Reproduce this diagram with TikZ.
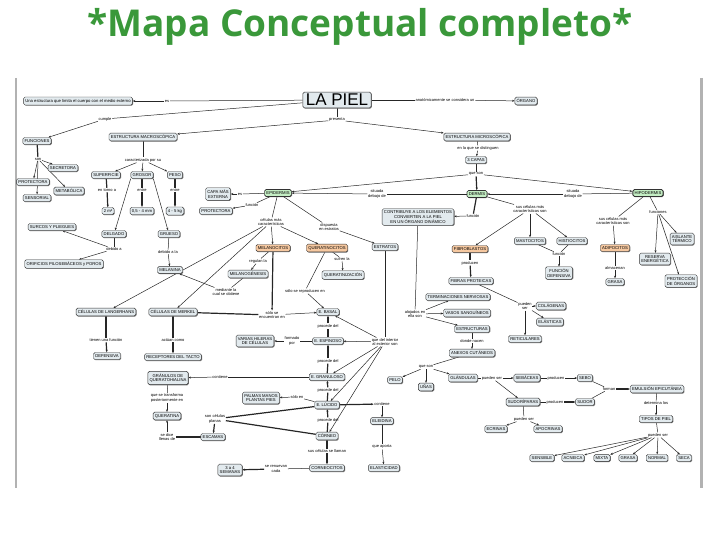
\documentclass[tikz,border=0pt]{standalone}
\usepackage{fontspec}
\setmainfont{Liberation Sans}
\newfontfamily\titlefont{Open Sans}
\usetikzlibrary{shadows,arrows.meta}
\definecolor{cmfill}{RGB}{226,234,238}
\definecolor{cmgreen}{RGB}{196,238,196}
\definecolor{cmorange}{RGB}{246,200,160}
\definecolor{titlegreen}{RGB}{58,152,58}
\pgfdeclarelayer{background}
\pgfsetlayers{background,main}

\begin{document}
\begin{tikzpicture}[x=1pt,y=-1pt,
    concept/.style={draw=black!80, fill=cmfill, rounded corners=1.5pt, inner xsep=1.8pt, inner ysep=2pt,
      align=center, font=\fontsize{4.2}{4.8}\selectfont, line width=0.4pt,
      copy shadow={shadow xshift=0.7pt, shadow yshift=-0.7pt, draw=none, fill=black!55}},
    greenbox/.style={concept, fill=cmgreen, line width=0.6pt},
    orangebox/.style={concept, fill=cmorange},
    link/.style={inner sep=0.6pt, align=center, font=\fontsize{4}{4.5}\selectfont},
    conn/.style={draw=black!85, line width=0.5pt},
    arr/.style={conn, -{Stealth[length=2.6pt,width=2pt]}},
    heavy/.style={line width=1.2pt}]
    \useasboundingbox (0,0) rectangle (720,540);

    % Title and frame
    \node[font=\titlefont\bfseries\fontsize{37}{44}\selectfont, text=titlegreen] (title) at (360,27) {*Mapa Conceptual completo*};
    \draw[gray!60, line width=1.2pt] (16,78) -- (16,488);
    \draw[gray!60, line width=3pt] (701,78) -- (701,488);

    % Top level
    \node[concept, font=\fontsize{17}{18}\selectfont, inner xsep=3pt, line width=0.6pt] (piel) at (337,100) {LA PIEL};
    \node[concept] (estr) at (78,101) {Una estructura que limita el cuerpo con el medio externo};
    \node[concept] (organo) at (526,101) {ÓRGANO};
    \node[concept] (func) at (37,141) {FUNCIONES};
    \node[concept] (macro) at (143,137) {ESTRUCTURA MACROSCÓPICA};
    \node[concept] (micro) at (477,137) {ESTRUCTURA MICROSCÓPICA};
    \node[link] (les) at (167,101) {es};
    \node[link] (lorgano) at (445,100) {anatómicamente se considera un};
    \node[link] (lpresenta) at (337,120) {presenta};
    \node[link] (lcumple) at (105,119) {cumple};

    % Funciones
    \node[link] (lson) at (38,159) {son};
    \node[concept] (secretora) at (63,168) {SECRETORA};
    \node[concept] (protect) at (33,182) {PROTECTORA};
    \node[concept] (metab) at (69,191) {METABÓLICA};
    \node[concept] (sensorial) at (37,198) {SENSORIAL};

    % Macroscopica
    \node[link] (lcaract) at (143,160) {caracterizada por su};
    \node[concept] (superficie) at (106,175) {SUPERFICIE};
    \node[concept] (grosor) at (142,175) {GROSOR};
    \node[concept] (peso) at (175,175) {PESO};
    \node[link] (ltorno) at (107,190) {en torno a};
    \node[link] (lentreA) at (142,190) {entre};
    \node[link] (lentreB) at (175,190) {entre};
    \node[concept] (dosm) at (108,211) {2 m²};
    \node[concept] (mm) at (142,211) {0,5 - 4 mm};
    \node[concept] (kg) at (175,211) {4 - 5 kg};
    \node[concept] (delgado) at (114,234) {DELGADO};
    \node[concept] (grueso) at (169,234) {GRUESO};
    \node[link] (ldebido) at (114,249) {debido a};
    \node[link] (ldebidola) at (168,252) {debido a la};
    \node[concept] (surcos) at (52,227) {SURCOS Y PLIEGUES};
    \node[concept] (orificios) at (64,264) {ORIFICIOS PILOSEBÁCEOS y POROS};
    \node[concept] (melanina) at (170,270) {MELANINA};

    % Capas
    \node[link] (ldistinguen) at (478,148) {en la que se distinguen};
    \node[concept] (capas) at (476,160) {3 CAPAS};
    \node[link] (lqueson) at (476,174) {que son};
    \node[greenbox] (epi) at (278,193) {EPIDERMIS};
    \node[greenbox] (dermis) at (477,194) {DERMIS};
    \node[greenbox, line width=0.9pt] (hipo) at (648,193) {HIPODERMIS};
    \node[link] (ldebajoA) at (377,194) {situada\\debajo de};
    \node[link] (ldebajoB) at (573,194) {situada\\debajo de};

    % Epidermis
    \node[link] (lesB) at (240,194) {es};
    \node[link] (lfuncion) at (252,205) {función};
    \node[concept] (capaext) at (218,194) {CAPA MÁS\\EXTERNA};
    \node[concept] (protec2) at (216,211) {PROTECTORA};
    \node[link] (lcelulas) at (271,222) {células más\\características};
    \node[link] (lestratos) at (329,227) {dispuesta\\en estratos};
    \node[orangebox] (melanocitos) at (273,248) {MELANOCITOS};
    \node[orangebox] (querato) at (327,248) {QUERATINOCITOS};
    \node[concept] (estratos) at (385,247) {ESTRATOS};
    \node[link] (lregulan) at (258,261) {regulan la};
    \node[concept] (melanogen) at (248,274) {MELANOGÉNESIS};
    \node[link] (lmediante) at (226,292) {mediante la\\cual se obtiene};
    \node[link] (lsufren) at (342,259) {sufren la};
    \node[concept] (queratiniz) at (343,275) {QUERATINIZACIÓN};
    \node[link] (lreproducen) at (305,291) {sólo se reproducen en};
    \node[link] (lencuentran) at (272,315) {sólo se\\encuentran en};
    \node[concept] (langer) at (106,312) {CÉLULAS DE LANGERHANS};
    \node[concept] (merkel) at (173,312) {CÉLULAS DE MERKEL};
    \node[link] (ltienen) at (106,340) {tienen una función};
    \node[link] (lactuan) at (173,340) {actúan como};
    \node[concept] (defensiva) at (107,356) {DEFENSIVA};
    \node[concept] (tacto) at (173,357) {RECEPTORES DEL TACTO};

    % Estratos
    \node[link] (linterior) at (385,342) {que del interior\\al exterior son};
    \node[concept] (basal) at (328,312) {E. BASAL};
    \node[concept] (espinoso) at (328,341) {E. ESPINOSO};
    \node[concept] (granuloso) at (327,377) {E. GRANULOSO};
    \node[concept] (lucido) at (327,405) {E. LÚCIDO};
    \node[concept] (corneo) at (327,436) {CÓRNEO};
    \node[link] (lprocA) at (328,326) {procede del};
    \node[link] (lprocB) at (328,361) {procede del};
    \node[link] (lprocC) at (328,390) {procede del};
    \node[link] (lprocD) at (328,420) {procede del};
    \node[link] (lformado) at (292,341) {formado\\por};
    \node[concept] (hileras) at (255,341) {VARIAS HILERAS\\DE CÉLULAS};
    \node[link] (lcontieneA) at (220,377) {contiene};
    \node[concept] (granulos) at (168,378) {GRÁNULOS DE\\QUERATOHIALINA};
    \node[link] (ltransforma) at (167,398) {que se transforma\\posteriormente en};
    \node[concept] (queratina) at (167,416) {QUERATINA};
    \node[link] (lllenas) at (167,437) {se dice\\llenas de};
    \node[link] (lplanas) at (215,419) {son células\\planas};
    \node[concept] (escamas) at (213,437) {ESCAMAS};
    \node[link] (lsolo) at (297,397) {sólo en};
    \node[concept] (palmas) at (261,398) {PALMAS MANOS\\PLANTAS PIES};
    \node[link] (lcontieneB) at (382,404) {contiene};
    \node[concept] (eleidina) at (382,421) {ELEIDINA};
    \node[link] (laporta) at (382,447) {que aporta};
    \node[concept] (elasticidad) at (384,468) {ELASTICIDAD};
    \node[link] (lllaman) at (327,451) {sus células se llaman};
    \node[concept] (corneocitos) at (327,468) {CORNEOCITOS};
    \node[link] (lrenuevan) at (276,469) {se renuevan\\cada};
    \node[concept] (semanas) at (230,470) {3 a 4\\SEMANAS};

    % Dermis
    \node[link] (lfuncionB) at (473,216) {función};
    \node[concept] (contrib) at (418,217) {CONTRIBUYE A LOS ELEMENTOS\\CONVIERTEN A LA PIEL\\EN UN ÓRGANO DINÁMICO};
    \node[link] (lcelulasB) at (530,209) {sus células más\\características son};
    \node[orangebox] (fibroblastos) at (470,249) {FIBROBLASTOS};
    \node[concept] (mastocitos) at (530,241) {MASTOCITOS};
    \node[concept] (histiocitos) at (572,241) {HISTIOCITOS};
    \node[link] (lfuncionC) at (559,254) {función};
    \node[concept] (defensivaB) at (559,273) {FUNCIÓN\\DEFENSIVA};
    \node[link] (lproducenA) at (470,263) {producen};
    \node[concept] (fibras) at (471,281) {FIBRAS PROTEICAS};
    \node[link] (lpuedenA) at (525,306) {pueden\\ser};
    \node[concept] (colagenas) at (551,306) {COLÁGENAS};
    \node[concept] (elasticas) at (550,322) {ELÁSTICAS};
    \node[concept] (reticulares) at (525,339) {RETICULARES};
    \node[link] (lalojados) at (415,314) {alojados en\\ella son};
    \node[concept] (terminaciones) at (458,297) {TERMINACIONES NERVIOSAS};
    \node[concept] (vasos) at (467,313) {VASOS SANGUÍNEOS};
    \node[concept] (estructuras) at (472,329) {ESTRUCTURAS};
    \node[link] (lnacen) at (472,341) {donde nacen};
    \node[concept] (anexos) at (472,353) {ANEXOS CUTÁNEOS};
    \node[link] (lquesonB) at (426,367) {que son};
    \node[concept] (pelo) at (395,380) {PELO};
    \node[concept] (unas) at (426,387) {UÑAS};
    \node[concept] (glandulas) at (463,378) {GLÁNDULAS};
    \node[link] (lpuedenB) at (492,378) {pueden ser};
    \node[concept] (sebaceas) at (527,378) {SEBÁCEAS};
    \node[concept] (sudoriparas) at (523,402) {SUDORÍPARAS};
    \node[link] (lproducenB) at (556,378) {producen};
    \node[link] (lproducenC) at (555,402) {producen};
    \node[concept] (sebo) at (585,378) {SEBO};
    \node[concept] (sudor) at (585,402) {SUDOR};
    \node[link] (lforman) at (609,389) {forman};
    \node[concept] (emulsion) at (657,389) {EMULSIÓN EPICUTÁNEA};
    \node[link] (ldetermina) at (656,403) {determina los};
    \node[concept] (tipos) at (656,419) {TIPOS DE PIEL};
    \node[link] (lpuedenC) at (658,435) {pueden ser};
    \node[link] (lpuedenD) at (524,419) {pueden ser};
    \node[concept] (ecrinas) at (496,429) {ECRINAS};
    \node[concept] (apocrinas) at (548,429) {APOCRINAS};
    \node[concept] (sensible) at (542,458) {SENSIBLE};
    \node[concept] (acneica) at (573,458) {ACNEICA};
    \node[concept] (mixta) at (602,458) {MIXTA};
    \node[concept] (grasa) at (628,458) {GRASA};
    \node[concept] (normal) at (657,458) {NORMAL};
    \node[concept] (seca) at (684,458) {SECA};

    % Hipodermis
    \node[link] (lcelulasC) at (613,221) {sus células más\\características son};
    \node[link] (lfunciones) at (658,212) {funciones};
    \node[orangebox] (adipocitos) at (615,248) {ADIPOCITOS};
    \node[link] (lalmacenan) at (615,268) {almacenan};
    \node[concept] (grasaB) at (615,282) {GRASA};
    \node[concept] (aislante) at (682,239) {AISLANTE\\TÉRMICO};
    \node[concept] (reserva) at (655,259) {RESERVA\\ENERGÉTICA};
    \node[concept] (proteccion) at (681,281) {PROTECCIÓN\\DE ÓRGANOS};

    % Connectors
    \begin{pgfonlayer}{background}
    \draw[conn] (piel) -- (les);  \draw[arr] (les) -- (estr);
    \draw[conn] (piel) -- (lorgano);  \draw[arr] (lorgano) -- (organo);
    \draw[conn] (piel) -- (lpresenta);
    \draw[arr] (lpresenta) -- (macro);  \draw[arr] (lpresenta) -- (micro);
    \draw[conn] (piel) -- (lcumple);  \draw[arr] (lcumple) -- (func);
    \draw[conn, heavy] (func) -- (lson);
    \foreach \n in {secretora,protect,metab,sensorial}
        \draw[arr] (lson) -- (\n);
    \draw[conn] (macro) -- (lcaract);
    \foreach \n in {superficie,grosor,peso}
        \draw[arr] (lcaract) -- (\n);
    \draw[conn, heavy] (superficie) -- (ltorno);  \draw[arr, heavy] (ltorno) -- (dosm);
    \draw[conn, heavy] (grosor) -- (lentreA);  \draw[arr, heavy] (lentreA) -- (mm);
    \draw[conn, heavy] (peso) -- (lentreB);  \draw[arr, heavy] (lentreB) -- (kg);
    \draw[arr] (grosor.south west) -- (delgado);
    \draw[arr] (grosor.south east) -- (grueso);
    \draw[conn] (delgado) -- (ldebido);
    \draw[arr] (ldebido) -- (surcos);  \draw[arr] (ldebido) -- (orificios);
    \draw[conn] (grueso) -- (ldebidola);  \draw[arr] (ldebidola) -- (melanina);
    \draw[conn] (micro) -- (ldistinguen);  \draw[arr] (ldistinguen) -- (capas);
    \draw[conn] (capas) -- (lqueson);
    \draw[arr, heavy] (lqueson) -- (dermis);
    \draw[arr] (lqueson) -- (epi);  \draw[arr] (lqueson) -- (hipo);
    \draw[conn] (dermis) -- (ldebajoA);  \draw[arr] (ldebajoA) -- (epi);
    \draw[conn] (hipo) -- (ldebajoB);  \draw[arr] (ldebajoB) -- (dermis);
    \draw[conn] (epi) -- (lesB);  \draw[arr] (lesB) -- (capaext);
    \draw[conn] (epi) -- (lfuncion);  \draw[arr] (lfuncion) -- (protec2);
    \draw[conn] (epi) -- (lcelulas);
    \foreach \n in {melanocitos,querato,langer,merkel}
        \draw[arr] (lcelulas) -- (\n);
    \draw[conn] (epi) -- (lestratos);  \draw[arr] (lestratos) -- (estratos);
    \draw[conn] (melanocitos) -- (lregulan);  \draw[arr] (lregulan) -- (melanogen);
    \draw[conn] (melanogen) -- (lmediante);  \draw[arr] (lmediante) -- (melanina);
    \draw[conn] (querato) -- (lsufren);  \draw[arr] (lsufren) -- (queratiniz);
    \draw[conn] (querato) -- (lreproducen);  \draw[arr] (lreproducen) -- (basal);
    \draw[arr, heavy] (melanocitos) -- (lencuentran);
    \draw[conn, heavy] (merkel) -- (lencuentran);  \draw[arr] (lencuentran) -- (basal);
    \draw[conn, heavy] (langer) -- (ltienen);  \draw[arr, heavy] (ltienen) -- (defensiva);
    \draw[conn, heavy] (merkel) -- (lactuan);  \draw[arr, heavy] (lactuan) -- (tacto);
    \draw[conn] (estratos) -- (linterior);
    \foreach \n in {basal,espinoso,granuloso,lucido,corneo}
        \draw[arr] (linterior) -- (\n);
    \draw[conn, heavy] (espinoso) -- (lprocA);  \draw[arr, heavy] (lprocA) -- (basal);
    \draw[conn, heavy] (granuloso) -- (lprocB);  \draw[arr, heavy] (lprocB) -- (espinoso);
    \draw[conn, heavy] (lucido) -- (lprocC);  \draw[arr, heavy] (lprocC) -- (granuloso);
    \draw[conn, heavy] (corneo) -- (lprocD);  \draw[arr, heavy] (lprocD) -- (lucido);
    \draw[conn] (espinoso) -- (lformado);  \draw[arr] (lformado) -- (hileras);
    \draw[conn] (granuloso) -- (lcontieneA);  \draw[arr] (lcontieneA) -- (granulos);
    \draw[conn] (granulos) -- (ltransforma);  \draw[arr] (ltransforma) -- (queratina);
    \draw[conn, heavy] (lucido) -- (lplanas);  \draw[conn, heavy] (corneo) -- (lplanas);
    \draw[arr, heavy] (lplanas) -- (escamas);
    \draw[conn, heavy] (escamas) -- (lllenas);  \draw[arr] (lllenas) -- (queratina);
    \draw[conn] (lucido) -- (lsolo);  \draw[arr] (lsolo) -- (palmas);
    \draw[arr, heavy] (lucido) -- (lcontieneB);  \draw[arr] (lcontieneB) -- (eleidina);
    \draw[conn] (eleidina) -- (laporta);  \draw[arr] (laporta) -- (elasticidad);
    \draw[conn, heavy] (corneo) -- (lllaman);  \draw[arr, heavy] (lllaman) -- (corneocitos);
    \draw[conn] (corneocitos) -- (lrenuevan);  \draw[arr, heavy] (lrenuevan) -- (semanas);
    \draw[conn, heavy] (dermis) -- (lfuncionB);  \draw[arr] (lfuncionB) -- (contrib);
    \draw[conn] (dermis) -- (lcelulasB);
    \foreach \n in {fibroblastos,mastocitos,histiocitos}
        \draw[arr] (lcelulasB) -- (\n);
    \draw[conn] (mastocitos) -- (lfuncionC);  \draw[conn] (histiocitos) -- (lfuncionC);
    \draw[arr] (lfuncionC) -- (defensivaB);
    \draw[conn, heavy] (fibroblastos) -- (lproducenA);  \draw[arr, heavy] (lproducenA) -- (fibras);
    \draw[conn] (fibras) -- (lpuedenA);
    \foreach \n in {colagenas,elasticas,reticulares}
        \draw[arr] (lpuedenA) -- (\n);
    \draw[conn] (contrib) -- (lalojados);
    \foreach \n in {terminaciones,vasos,estructuras}
        \draw[arr] (lalojados) -- (\n);
    \draw[conn] (estructuras) -- (lnacen);  \draw[arr] (lnacen) -- (anexos);
    \draw[conn] (anexos) -- (lquesonB);
    \foreach \n in {pelo,unas,glandulas}
        \draw[arr] (lquesonB) -- (\n);
    \draw[conn] (glandulas) -- (lpuedenB);
    \draw[arr] (lpuedenB) -- (sebaceas);  \draw[arr] (lpuedenB) -- (sudoriparas);
    \draw[conn] (sebaceas) -- (lproducenB);  \draw[arr] (lproducenB) -- (sebo);
    \draw[conn] (sudoriparas) -- (lproducenC);  \draw[arr, heavy] (lproducenC) -- (sudor);
    \draw[conn] (sebo) -- (lforman);  \draw[conn] (sudor) -- (lforman);
    \draw[arr, heavy] (lforman) -- (emulsion);
    \draw[conn] (emulsion) -- (ldetermina);  \draw[arr] (ldetermina) -- (tipos);
    \draw[conn] (tipos) -- (lpuedenC);
    \foreach \n in {sensible,acneica,mixta,grasa,normal,seca}
        \draw[arr] (lpuedenC) -- (\n);
    \draw[conn] (sudoriparas) -- (lpuedenD);
    \draw[arr] (lpuedenD) -- (ecrinas);  \draw[arr] (lpuedenD) -- (apocrinas);
    \draw[conn] (hipo) -- (lcelulasC);  \draw[arr] (lcelulasC) -- (adipocitos);
    \draw[conn] (adipocitos) -- (lalmacenan);  \draw[arr] (lalmacenan) -- (grasaB);
    \draw[conn] (hipo) -- (lfunciones);
    \foreach \n in {aislante,reserva,proteccion}
        \draw[arr] (lfunciones) -- (\n);
    \end{pgfonlayer}
\end{tikzpicture}
\end{document}
